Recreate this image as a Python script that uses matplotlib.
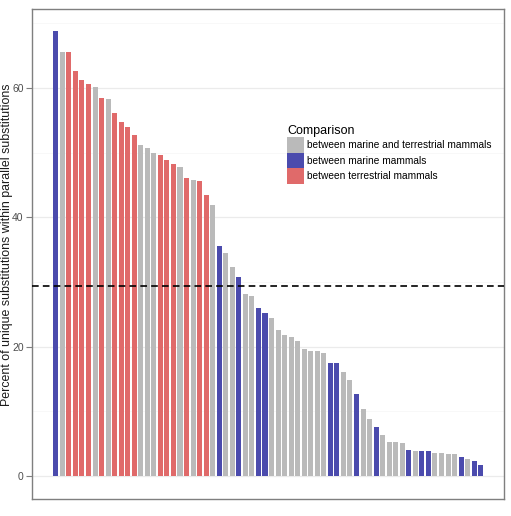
import matplotlib
matplotlib.use('Agg')
from matplotlib import pyplot as plt
from matplotlib.patches import Patch

plt.rcParams['font.family'] = ['Liberation Sans', 'DejaVu Sans']

# bar heights (percent), sorted, and comparison group of each bar
values = [68.8, 65.6, 65.6, 62.6, 61.25, 60.6, 60.1, 58.4, 58.3, 56.1,
          54.75, 53.9, 52.7, 51.1, 50.7, 50.0, 49.6, 48.9, 48.3, 47.7,
          46.1, 45.7, 45.6, 43.4, 41.9, 35.5, 34.4, 32.3, 30.7, 28.1,
          27.9, 25.9, 25.2, 24.5, 22.5, 21.8, 21.45, 20.9, 19.6, 19.3,
          19.3, 19.0, 17.5, 17.4, 16.1, 14.8, 12.6, 10.4, 8.8, 7.6,
          6.3, 5.3, 5.2, 5.05, 4.0, 3.8, 3.8, 3.8, 3.55, 3.55,
          3.35, 3.35, 2.9, 2.7, 2.3, 1.65]
groups = ['B', 'G', 'R', 'R', 'R', 'R', 'G', 'R', 'G', 'R',
          'R', 'R', 'R', 'G', 'G', 'G', 'R', 'R', 'R', 'G',
          'R', 'G', 'R', 'R', 'G', 'B', 'G', 'G', 'B', 'G',
          'G', 'B', 'B', 'G', 'G', 'G', 'G', 'G', 'G', 'G',
          'G', 'G', 'B', 'B', 'G', 'G', 'B', 'G', 'G', 'B',
          'G', 'G', 'G', 'G', 'B', 'G', 'B', 'B', 'G', 'G',
          'G', 'G', 'B', 'G', 'B', 'B']
mean_line = 29.4

colors = {'G': '#bababa', 'B': '#4b4bad', 'R': '#e06a6a'}
labels = {'G': 'between marine and terrestrial mammals',
          'B': 'between marine mammals',
          'R': 'between terrestrial mammals'}

fig = plt.figure(figsize=(5.11, 5.16), dpi=100)
ax = fig.add_axes([32/511, 1 - 499/516, 472/511, 490/516])

x = list(range(1, len(values) + 1))
ax.bar(x, values, width=0.77, color=[colors[g] for g in groups], zorder=2)
ax.axhline(mean_line, color='black', linestyle=(0, (4, 2.5)), linewidth=1.2, zorder=3)

ax.set_xlim(-2.64, 69.56)
ax.set_ylim(-3.56, 72.2)
ax.set_xticks([])
ax.set_yticks([0, 20, 40, 60])
ax.set_yticks([10, 30, 50, 70], minor=True)
ax.tick_params(axis='y', which='major', length=4, width=0.8, color='#7f7f7f',
               labelsize=7.5, labelcolor='#4d4d4d', pad=2)
ax.tick_params(axis='y', which='minor', length=0)
ax.grid(axis='y', which='major', color='#ebebeb', linewidth=0.9, zorder=0)
ax.grid(axis='y', which='minor', color='#f5f5f5', linewidth=0.5, zorder=0)
ax.set_axisbelow(True)
for s in ax.spines.values():
    s.set_color('#7f7f7f')
    s.set_linewidth(1.0)

fig.text(7/511, 1 - 245/516, 'Percent of unique substitutions within parallel substitutions',
         rotation=90, ha='center', va='center', fontsize=8.9, color='#1a1a1a')

handles = [Patch(facecolor=colors[k], edgecolor='none', label=labels[k]) for k in ['G', 'B', 'R']]
leg = fig.legend(handles=handles, title='Comparison', loc='upper left',
                 bbox_to_anchor=(280/511, 1 - 118/516), frameon=False,
                 fontsize=7.3, title_fontsize=9, handlelength=1.7, handleheight=2.0,
                 labelspacing=0.0, handletextpad=0.25, borderpad=0.2, alignment='left')

fig.savefig('out.png', dpi=100)
